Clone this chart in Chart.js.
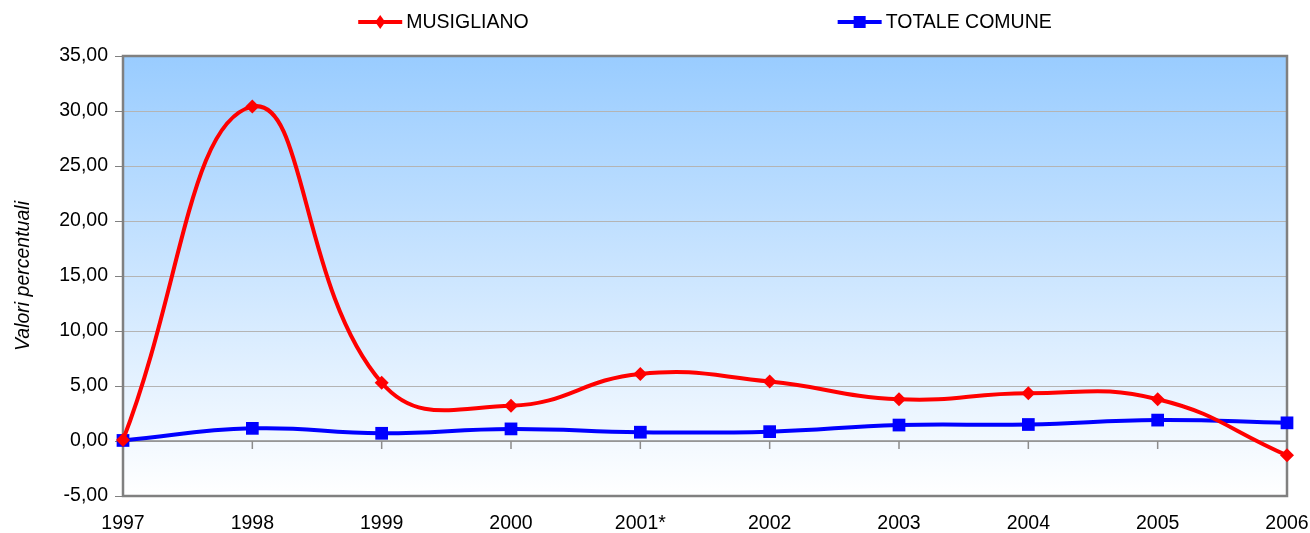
<!DOCTYPE html>
<html lang="it">
<head>
    <meta charset="UTF-8">
    <title>Musigliano - Totale Comune</title>
    <script src="https://cdn.jsdelivr.net/npm/chart.js"></script>
    <style>
        html, body { margin: 0; padding: 0; background: #ffffff; }
        #wrap { width: 1310px; height: 533px; }
    </style>
</head>
<body>
    <div id="wrap">
        <canvas id="myChart" width="1310" height="533"></canvas>
    </div>

    <script>
        // dati
        const anni = ['1997', '1998', '1999', '2000', '2001*', '2002', '2003', '2004', '2005', '2006'];
        const musigliano = [0.10, 30.40, 5.30, 3.20, 6.10, 5.40, 3.80, 4.35, 3.80, -1.30];
        const totaleComune = [0.05, 1.15, 0.70, 1.10, 0.80, 0.85, 1.45, 1.50, 1.90, 1.65];
        const serieNomi = ['MUSIGLIANO', 'TOTALE COMUNE'];
        const yMin = -5, yMax = 35, yStep = 5;

        const FONT = '"Liberation Sans", Arial, sans-serif';

        // sfondo sfumato dell'area del grafico
        const sfondo = {
            id: 'sfondo',
            beforeDraw(chart) {
                const { ctx, chartArea: a } = chart;
                const g = ctx.createLinearGradient(0, a.top, 0, a.bottom);
                g.addColorStop(0, '#99ccff');
                g.addColorStop(1, '#ffffff');
                ctx.save();
                ctx.fillStyle = g;
                ctx.fillRect(a.left, a.top, a.right - a.left, a.bottom - a.top);
                ctx.restore();
            }
        };

        // cornice, linea dello zero e tacche dell'asse x
        const cornice = {
            id: 'cornice',
            beforeDatasetsDraw(chart) {
                const { ctx, chartArea: a, scales } = chart;
                const y0 = scales.y.getPixelForValue(0);
                ctx.save();
                ctx.strokeStyle = '#8c8c8c';
                ctx.lineWidth = 1.5;
                ctx.beginPath();
                ctx.moveTo(a.left, y0);
                ctx.lineTo(a.right, y0);
                scales.x.ticks.forEach((t, i) => {
                    const x = scales.x.getPixelForTick(i);
                    ctx.moveTo(x, y0);
                    ctx.lineTo(x, y0 + 8);
                });
                ctx.stroke();
                ctx.strokeStyle = '#808080';
                ctx.lineWidth = 2.5;
                ctx.strokeRect(a.left, a.top, a.right - a.left, a.bottom - a.top);
                ctx.restore();
            }
        };

        // legenda in stile Excel (linea + simbolo)
        const legenda = {
            id: 'legenda',
            afterDraw(chart) {
                const { ctx, chartArea: a } = chart;
                const ds = chart.data.datasets;
                const lineLen = 44, gapTesto = 4, gapVoci = 309, y = 22;
                ctx.save();
                ctx.font = '19.5px ' + FONT;
                const larghezze = ds.map(d => lineLen + gapTesto + ctx.measureText(d.label).width);
                const tot = larghezze.reduce((s, w) => s + w, 0) + gapVoci * (ds.length - 1);
                let x = (a.left + a.right) / 2 - tot / 2;
                ds.forEach((d, i) => {
                    ctx.strokeStyle = d.borderColor;
                    ctx.lineWidth = 4;
                    ctx.beginPath();
                    ctx.moveTo(x, y);
                    ctx.lineTo(x + lineLen, y);
                    ctx.stroke();
                    const cx = x + lineLen / 2;
                    ctx.fillStyle = d.borderColor;
                    ctx.beginPath();
                    if (d.pointStyle === 'rectRot') {
                        ctx.moveTo(cx, y - 7);
                        ctx.lineTo(cx + 5, y);
                        ctx.lineTo(cx, y + 7);
                        ctx.lineTo(cx - 5, y);
                        ctx.closePath();
                    } else {
                        ctx.rect(cx - 6, y - 6, 12, 12);
                    }
                    ctx.fill();
                    ctx.fillStyle = '#000000';
                    ctx.textBaseline = 'middle';
                    ctx.textAlign = 'left';
                    ctx.fillText(d.label, x + lineLen + gapTesto, y + 1);
                    x += larghezze[i] + gapVoci;
                });
                ctx.restore();
            }
        };

        const ctx = document.getElementById('myChart');
        new Chart(ctx, {
            type: 'line',
            data: {
                labels: anni,
                datasets: [
                    {
                        label: serieNomi[0],
                        data: musigliano,
                        borderColor: '#ff0000',
                        backgroundColor: '#ff0000',
                        borderWidth: 4,
                        pointStyle: 'rectRot',
                        pointRadius: 7,
                        pointHoverRadius: 7,
                        pointBorderWidth: 0,
                        tension: 0.45,
                        clip: false
                    },
                    {
                        label: serieNomi[1],
                        data: totaleComune,
                        borderColor: '#0000ff',
                        backgroundColor: '#0000ff',
                        borderWidth: 4,
                        pointStyle: 'rect',
                        pointRadius: 9,
                        pointHoverRadius: 9,
                        pointBorderWidth: 0,
                        tension: 0.45,
                        clip: false
                    }
                ]
            },
            options: {
                responsive: false,
                animation: false,
                layout: { padding: { top: 56, right: 23, left: 0, bottom: 0 } },
                plugins: {
                    legend: { display: false },
                    tooltip: { enabled: false }
                },
                scales: {
                    x: {
                        offset: false,
                        grid: { drawOnChartArea: false, color: 'transparent', tickLength: 8 },
                        border: { display: false },
                        ticks: { color: '#000000', font: { family: FONT, size: 19.5 }, padding: 8, maxRotation: 0, autoSkip: false },
                        afterFit(scale) {
                            scale.height = 37;
                            scale.paddingLeft = 0;
                            scale.paddingRight = 0;
                        }
                    },
                    y: {
                        min: yMin,
                        max: yMax,
                        grid: { color: '#b4b4b4', tickColor: '#808080', tickLength: 8, lineWidth: 1 },
                        border: { display: false },
                        ticks: {
                            stepSize: yStep,
                            color: '#000000',
                            padding: 7,
                            font: { family: FONT, size: 19.5 },
                            callback: (v) => v.toFixed(2).replace('.', ',')
                        },
                        title: {
                            display: true,
                            text: 'Valori percentuali',
                            color: '#000000',
                            font: { family: FONT, size: 19.5, style: 'italic' },
                            padding: { top: 12, bottom: 0 }
                        },
                        afterFit(scale) {
                            scale.width = 123;
                            scale.paddingTop = 0;
                            scale.paddingBottom = 0;
                        }
                    }
                }
            },
            plugins: [sfondo, cornice, legenda]
        });
    </script>
</body>
</html>
